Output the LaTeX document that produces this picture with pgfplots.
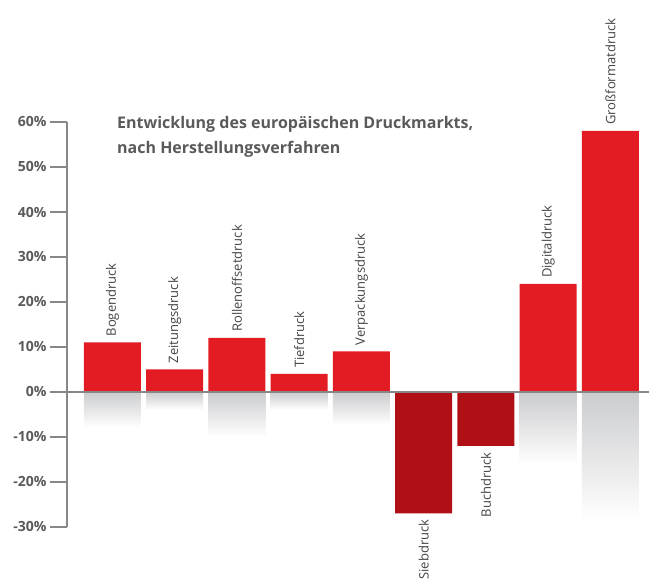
\documentclass[border=0pt]{standalone}
\usepackage{pgfplots}
\usepackage{pgfplotstable}
\pgfplotsset{compat=1.18}
\usepackage{fontspec}
\setmainfont{Open Sans}
\definecolor{barred}{HTML}{E31B23}
\definecolor{darkred}{HTML}{B00F16}
\definecolor{axgray}{HTML}{878787}
\definecolor{txtgray}{HTML}{5A5A5A}
\definecolor{labgray}{HTML}{444444}
\definecolor{refl}{HTML}{CBCCCE}
\pgfplotstableread{
x y label
0 11 Bogendruck
1 5 Zeitungsdruck
2 12 Rollenoffsetdruck
3 4 Tiefdruck
4 9 Verpackungsdruck
7 24 Digitaldruck
8 58 Großformatdruck
}\posdata
\pgfplotstableread{
x y label
5 -27 Siebdruck
6 -12 Buchdruck
}\negdata
\begin{document}
\begin{tikzpicture}[x=1pt,y=1pt]
\path[use as bounding box] (0,0) rectangle (649,585);
\begin{axis}[
  at={(67pt,58pt)}, anchor=south west,
  scale only axis, width=582pt, height=405pt,
  xmin=-0.73, xmax=8.62, ymin=-30, ymax=60,
  axis x line=none, axis y line=left,
  axis line style={-, axgray, line width=2.5pt},
  xtick=\empty,
  ytick={-30,-20,...,60},
  tick style={axgray, line width=2.5pt},
  major tick length=17pt, tick align=outside,
  /pgf/number format/assume math mode=true,
  yticklabel={\pgfmathprintnumber{\tick}\%},
  yticklabel style={font=\bfseries\fontsize{14}{16}\selectfont, text=txtgray},
  clip=false,
  every node near coord/.append style={rotate=90, anchor=west, font=\fontsize{13}{15}\selectfont, text=labgray, inner xsep=6pt, inner ysep=0pt},
  reflbar/.style={ybar, bar width=57pt, bar shift=0pt, draw=none, top color=refl, bottom color=white, forget plot},
]
\addplot[reflbar] coordinates {(0,-7.8)};
\addplot[reflbar] coordinates {(1,-4)};
\addplot[reflbar] coordinates {(2,-10)};
\addplot[reflbar] coordinates {(3,-4)};
\addplot[reflbar] coordinates {(4,-7.3)};
\addplot[reflbar] coordinates {(7,-16)};
\addplot[reflbar] coordinates {(8,-28.5)};
\addplot[ybar, bar width=57pt, bar shift=0pt, draw=none, fill=barred,
  nodes near coords, point meta=explicit symbolic] table[x=x,y=y,meta=label]{\posdata};
\addplot[ybar, bar width=57pt, bar shift=0pt, draw=none, fill=darkred,
  nodes near coords, point meta=explicit symbolic,
  every node near coord/.append style={anchor=east}] table[x=x,y=y,meta=label]{\negdata};
\addplot[axgray, line width=2.5pt] coordinates {(-0.73,0) (8.62,0)};
\end{axis}
\node[anchor=north west, align=left, inner sep=0pt, font=\bfseries\fontsize{16}{25}\selectfont, text=txtgray] at (117,469) {Entwicklung des europäischen Druckmarkts,\\nach Herstellungsverfahren};
\end{tikzpicture}
\end{document}
